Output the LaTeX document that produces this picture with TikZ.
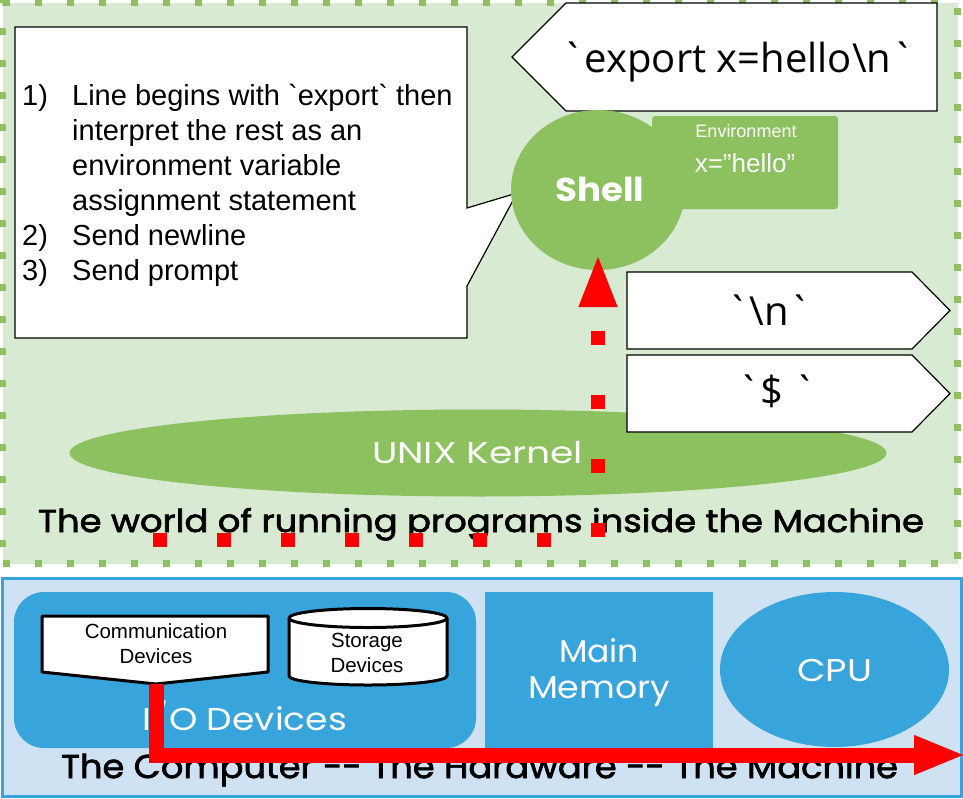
\documentclass[tikz,border=0pt]{standalone}
\usepackage{fontspec}
\usepackage{graphicx}
\setmainfont[Ligatures = TeXOff]{Liberation Sans}
\newfontfamily\codefont[Ligatures = TeXOff]{Open Sans}
\newfontfamily\techfont[Ligatures = TeXOff]{Poppins}
\newfontfamily\techheavy[Ligatures = TeXOff, FakeBold = 2]{Poppins}
\usetikzlibrary{shapes, arrows.meta, positioning}
\definecolor{worldgreen}{HTML}{D9EAD3}
\definecolor{progreen}{HTML}{8DC05F}
\definecolor{hwblue}{HTML}{CFE2F3}
\definecolor{devblue}{HTML}{37A5DB}
% width, font size, text: keep the height, squeeze the width
\newcommand{\tech}[3]{\resizebox{#1pt}{\height}{\fontsize{#2}{#2}\selectfont #3}}
\tikzstyle{world} = [rectangle, fill = worldgreen, draw = progreen,
  line width = 7pt, dash pattern = on 7pt off 25pt]
\tikzstyle{hardware} = [rectangle, fill = hwblue, draw = devblue,
  line width = 3pt]
\tikzstyle{bubble} = [fill = white, draw = black, line width = 1.2pt]
\tikzstyle{program} = [fill = progreen, inner sep = 0]
\tikzstyle{device} = [fill = devblue, inner sep = 0]
\tikzstyle{gadget} = [fill = white, draw = black, line width = 3pt,
  line join = round]
\tikzstyle{txt} = [inner sep = 0, anchor = base]
\tikzstyle{keys} = [
  draw = red, line width = 14pt, dash pattern = on 14pt off 50pt,
  -{Triangle[length = 50pt, width = 39pt, line width = 1pt]}
]
\tikzstyle{wire} = [
  draw = red, line width = 15pt,
  -{Triangle[length = 49pt, width = 40pt, line width = 1pt]}
]

\begin{document}
\begin{tikzpicture}[x = 1pt, y = -1pt]
  \useasboundingbox (0, 0) rectangle (963, 798);
  % world of programs
  \node [world, minimum width = 955, minimum height = 561] (world) at (480, 283) {};
  % the machine
  \node [hardware, minimum width = 959, minimum height = 218] (hardware) at (481.5, 687) {};

  % callout
  \draw [bubble] (15, 27) -- (467, 27) -- (467, 208) -- (517, 193) -- (467, 286) --
  (467, 338) -- (15, 338) -- cycle;
  \node [txt, anchor = base west] (steps) at (22, 105) {\fontsize{29}{35}\selectfont
    \begin{tabular}[t]{@{}p{50pt}@{}l@{}}
      1) & Line begins with `export` then\\
         & interpret the rest as an\\
         & environment variable\\
         & assignment statement\\
      2) & Send newline\\
      3) & Send prompt
    \end{tabular}};

  % typed line
  \draw [bubble] (512, 57) -- (566, 3) -- (937, 3) -- (937, 111) -- (566, 111) -- cycle;
  \node [txt] (typed) at (738, 72) {\codefont\fontsize{40}{48}\selectfont `export x=hello\textbackslash n`};

  % shell
  \node [program, ellipse, minimum width = 174, minimum height = 160] (shell) at (598, 190) {};
  \node [program, rounded corners = 3pt, minimum width = 186, minimum height = 93] (env) at (745, 162.5) {};
  \node [txt, white] (shell-name) at (600, 201) {\tech{89}{33}{\techfont\bfseries Shell}};
  \node [txt, white] (env-name) at (746, 137) {\fontsize{18}{22}\selectfont Environment};
  \node [txt, white] (env-value) at (745, 172) {\fontsize{26}{30}\selectfont x=”hello”};

  % kernel
  \node [program, ellipse, minimum width = 817, minimum height = 87] (kernel) at (478, 453) {};
  \node [txt, white] (kernel-name) at (477.5, 463) {\tech{211}{30}{\techfont UNIX Kernel}};

  % replies
  \draw [bubble] (627, 272) -- (912, 272) -- (950, 310.5) -- (912, 349) -- (627, 349) -- cycle;
  \node [txt] (reply-0) at (769, 325) {\codefont\fontsize{40}{48}\selectfont `\textbackslash n`};
  \draw [bubble] (627, 355) -- (912, 355) -- (950, 393.5) -- (912, 432) -- (627, 432) -- cycle;
  \node [txt] (reply-1) at (777, 405) {\codefont\fontsize{40}{48}\selectfont `\$ `};

  \node [txt] (world-name) at (481, 532) {\tech{886}{31.5}{\techheavy The world of running programs inside the Machine}};

  % devices
  \node [device, rounded corners = 30pt, minimum width = 462, minimum height = 156] (io) at (245, 670) {};
  \node [device, minimum width = 228, minimum height = 156] (memory) at (599, 670) {};
  \node [device, ellipse, minimum width = 229, minimum height = 155] (cpu) at (834.5, 669.5) {};
  \node [txt, white] (io-name) at (245, 730) {\tech{204}{31.5}{\techfont I/O Devices}};
  \node [txt, white] (memory-name-a) at (599, 662) {\tech{80}{31.5}{\techfont Main}};
  \node [txt, white] (memory-name-b) at (599, 698) {\tech{142}{31.5}{\techfont Memory}};
  \node [txt, white] (cpu-name) at (834.5, 681) {\tech{75}{31.5}{\techfont CPU}};
  % communication
  \draw [gadget] (42, 616) -- (268, 616) -- (268, 672) -- (156, 684) -- (42, 672) -- cycle;
  \coordinate (comm-tip) at (156, 684);
  \node [txt] (comm-a) at (156, 638) {\fontsize{20.5}{24}\selectfont Communication};
  \node [txt] (comm-b) at (156, 663) {\fontsize{20.5}{24}\selectfont Devices};
  % storage
  \draw [gadget] (289, 618) -- (289, 676) arc [start angle = 180, end angle = 0,
  x radius = 79, y radius = 9] -- (447, 618) -- cycle;
  \node [gadget, ellipse, inner sep = 0, minimum width = 158, minimum height = 19] (storage) at (368, 618) {};
  \node [txt] (storage-a) at (367, 647) {\fontsize{20.5}{24}\selectfont Storage};
  \node [txt] (storage-b) at (367, 672) {\fontsize{20.5}{24}\selectfont Devices};

  \node [txt] (hardware-name) at (479.5, 778) {\tech{837}{33}{\techheavy The Computer -- The Hardware -- The Machine}};

  % keystrokes
  \coordinate (dot-start) at (153, 540);
  \coordinate (dot-turn) at (598, 540);
  \coordinate (dot-end) at (598, 257);
  \draw [keys] (dot-start) -- (dot-turn) -- (dot-end);
  % wire
  \coordinate (wire-turn) at (156, 755);
  \coordinate (wire-end) at (963, 755);
  \draw [wire] (comm-tip) -- (wire-turn) -- (wire-end);
\end{tikzpicture}
\end{document}
